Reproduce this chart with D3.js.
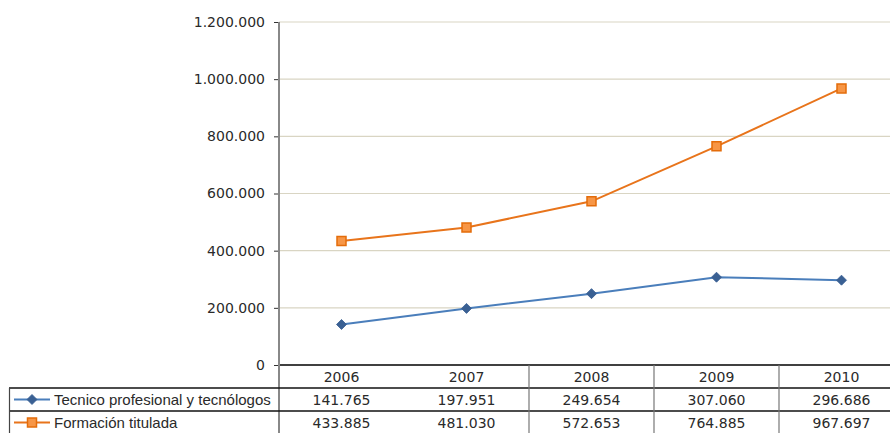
<!DOCTYPE html>
<html><head><meta charset="utf-8">
<script src="https://cdn.jsdelivr.net/npm/d3@7"></script>
<style>body{margin:0;background:#fff}svg{display:block}</style>
</head><body><svg id="c" width="890" height="433"></svg>
<script>
const years = ["2006","2007","2008","2009","2010"];
const seriesNames = ["Tecnico profesional y tecnólogos","Formación titulada"];
const tecnico = [141765,197951,249654,307060,296686];
const formacion = [433885,481030,572653,764885,967697];
const yTicks = [0,200000,400000,600000,800000,1000000,1200000];

const svg = d3.select("#c");
const x0 = 279, bandW = 125;
const x = d3.scaleBand().domain(years).range([x0, x0 + bandW*years.length]);
const y = d3.scaleLinear().domain([0,1200000]).range([365,22]);
const fmt = v => d3.format(",")(v).replace(/,/g,".");
const numFont = "DejaVu Sans", txtFont = "Liberation Sans";
const txtCol = "#2a2a2a";

// gridlines
svg.append("g").selectAll("line").data(yTicks.filter(d=>d>0)).join("line")
  .attr("x1",x0).attr("x2",890).attr("y1",d=>y(d)).attr("y2",d=>y(d))
  .attr("stroke","#d9d5c3").attr("stroke-width",1.2);

// y axis
const ya = svg.append("g").attr("transform",`translate(${x0},0)`)
  .call(d3.axisLeft(y).tickValues(yTicks).tickFormat(fmt).tickSize(5).tickPadding(9));
ya.select(".domain").remove();
ya.selectAll(".tick line").attr("stroke","#333");
ya.selectAll("text").attr("font-family",numFont).attr("font-size",14).attr("fill",txtCol);

// x axis baseline
svg.append("line").attr("x1",x0).attr("x2",890).attr("y1",y(0)).attr("y2",y(0)).attr("stroke","#000").attr("stroke-width",1.3);
// y axis line
svg.append("line").attr("x1",x0).attr("x2",x0).attr("y1",y(1200000)).attr("y2",433).attr("stroke","#888").attr("stroke-width",2);

// table
const rowY = [388,411];
rowY.forEach(r=>svg.append("line").attr("x1",9).attr("x2",890).attr("y1",r).attr("y2",r).attr("stroke","#111").attr("stroke-width",1.3));
svg.append("line").attr("x1",9.5).attr("x2",9.5).attr("y1",388).attr("y2",433).attr("stroke","#444").attr("stroke-width",1.2);
svg.append("g").selectAll("line").data(years.slice(2)).join("line")
  .attr("x1",d=>x(d)).attr("x2",d=>x(d)).attr("y1",365).attr("y2",433)
  .attr("stroke","#777").attr("stroke-width",1.2);

const cx = d => x(d) + x.bandwidth()/2;
svg.append("g").selectAll("text").data(years).join("text")
  .attr("x",cx).attr("y",382).attr("text-anchor","middle")
  .attr("font-family",numFont).attr("font-size",14).attr("fill",txtCol).text(d=>d);

const series = [
  {name:seriesNames[0], values:tecnico, line:"#4a7ebb", fill:"#3a6093", stroke:"#3a6093", shape:"diamond", rowY:399.5},
  {name:seriesNames[1], values:formacion, line:"#e8741b", fill:"#f79646", stroke:"#e46c0a", shape:"square", rowY:422.5}
];

series.forEach(s=>{
  const pts = years.map((yr,i)=>[cx(yr), y(s.values[i])]);
  svg.append("path").attr("d", d3.line()(pts))
    .attr("fill","none").attr("stroke",s.line).attr("stroke-width",2);
  const sym = s.shape==="diamond" ? d3.symbol().type(d3.symbolSquare).size(50) : d3.symbol().type(d3.symbolSquare).size(81);
  svg.append("g").selectAll("path").data(pts).join("path")
    .attr("d",sym).attr("transform",d=>`translate(${d[0]},${d[1]})${s.shape==="diamond"?" rotate(45)":""}`)
    .attr("fill",s.fill).attr("stroke",s.stroke).attr("stroke-width",s.shape==="diamond"?0.8:1.5);
  // table row
  svg.append("line").attr("x1",14).attr("x2",50).attr("y1",s.rowY).attr("y2",s.rowY).attr("stroke",s.line).attr("stroke-width",2);
  svg.append("path").attr("d",sym).attr("transform",`translate(32,${s.rowY})${s.shape==="diamond"?" rotate(45)":""}`)
    .attr("fill",s.fill).attr("stroke",s.stroke).attr("stroke-width",s.shape==="diamond"?0.8:1.5);
  svg.append("text").attr("x",54).attr("y",s.rowY+5).attr("font-family",txtFont).attr("font-size",15).attr("fill",txtCol).text(s.name);
  svg.append("g").selectAll("text").data(s.values).join("text")
    .attr("x",(d,i)=>cx(years[i])).attr("y",s.rowY+5).attr("text-anchor","middle")
    .attr("font-family",numFont).attr("font-size",14).attr("fill",txtCol).text(fmt);
});
</script></body></html>
